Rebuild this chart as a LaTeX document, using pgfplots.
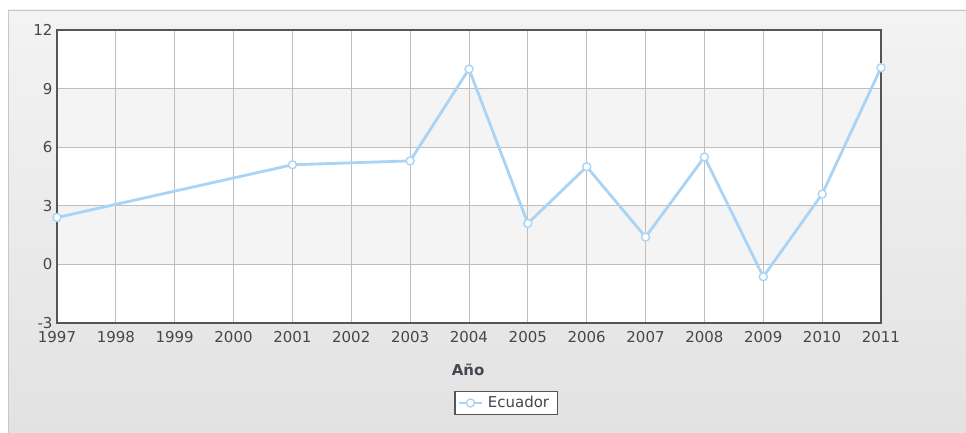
\documentclass[border=0pt]{standalone}
\usepackage{fontspec}
\setmainfont{DejaVu Sans}
\usepackage{pgfplots}
\pgfplotsset{compat=1.18}
\definecolor{lineblue}{RGB}{170,212,245}
\definecolor{framec}{RGB}{85,85,85}
\definecolor{gridc}{RGB}{190,190,190}
\definecolor{band}{RGB}{244,244,244}
\definecolor{txt}{RGB}{70,70,80}
\definecolor{bgtop}{RGB}{243,243,243}
\definecolor{bgbot}{RGB}{226,226,226}
\begin{document}
\begin{tikzpicture}
\useasboundingbox (0pt,0pt) rectangle (966pt,433pt);
\fill[top color=bgtop,bottom color=bgbot] (8pt,0pt) rectangle (966pt,423pt);
\draw[color=black!22, line width=1pt] (8.5pt,0pt) -- (8.5pt,422.5pt) -- (966pt,422.5pt);
\fill[white] (57pt,110pt) rectangle (881pt,403pt);
\fill[band] (57pt,168.6pt) rectangle (881pt,227.2pt);
\fill[band] (57pt,285.8pt) rectangle (881pt,344.4pt);
\begin{axis}[
  at={(57pt,110pt)}, anchor=south west,
  scale only axis, width=824pt, height=293pt,
  xmin=1997, xmax=2011, ymin=-3, ymax=12,
  xtick={1997,...,2011}, ytick={-3,0,3,6,9,12},
  grid=major, major grid style={gridc, line width=0.8pt},
  major tick length=0pt,
  axis line style={framec, line width=2.8pt},
  clip=false,
  /pgf/number format/assume math mode=true,
  /pgf/number format/1000 sep={},
  tick label style={font=\fontsize{15}{18}\selectfont, text=txt},
  yticklabel style={xshift=-1pt},
  xticklabel style={yshift=-5pt},
  xlabel={\textbf{Año}},
  xlabel style={at={(axis description cs:0.499,-0.160)}, anchor=center, font=\fontsize{15}{18}\selectfont, text=txt},
  legend style={at={(0.545,-0.273)}, anchor=center, draw=framec, line width=1.2pt, fill=white,
    font=\fontsize{15}{18}\selectfont, text=txt, inner xsep=3pt, inner ysep=3pt,
    nodes={inner xsep=5pt}},
  legend image code/.code={\draw[mark repeat=2,mark phase=2,line width=2pt]
    plot coordinates {(0cm,0cm) (0.4cm,0cm) (0.8cm,0cm)};},
  legend cell align=left,
]
\addplot[lineblue, line width=2.8pt, mark=*, mark size=4pt,
  mark options={fill=white, draw=lineblue, line width=1.4pt}]
  coordinates {
  (1997,2.4) (2001,5.1) (2003,5.3) (2004,10.0) (2005,2.1) (2006,5.0)
  (2007,1.4) (2008,5.5) (2009,-0.63) (2010,3.6) (2011,10.07)
  };
\addlegendentry{Ecuador}
\end{axis}
\end{tikzpicture}
\end{document}
